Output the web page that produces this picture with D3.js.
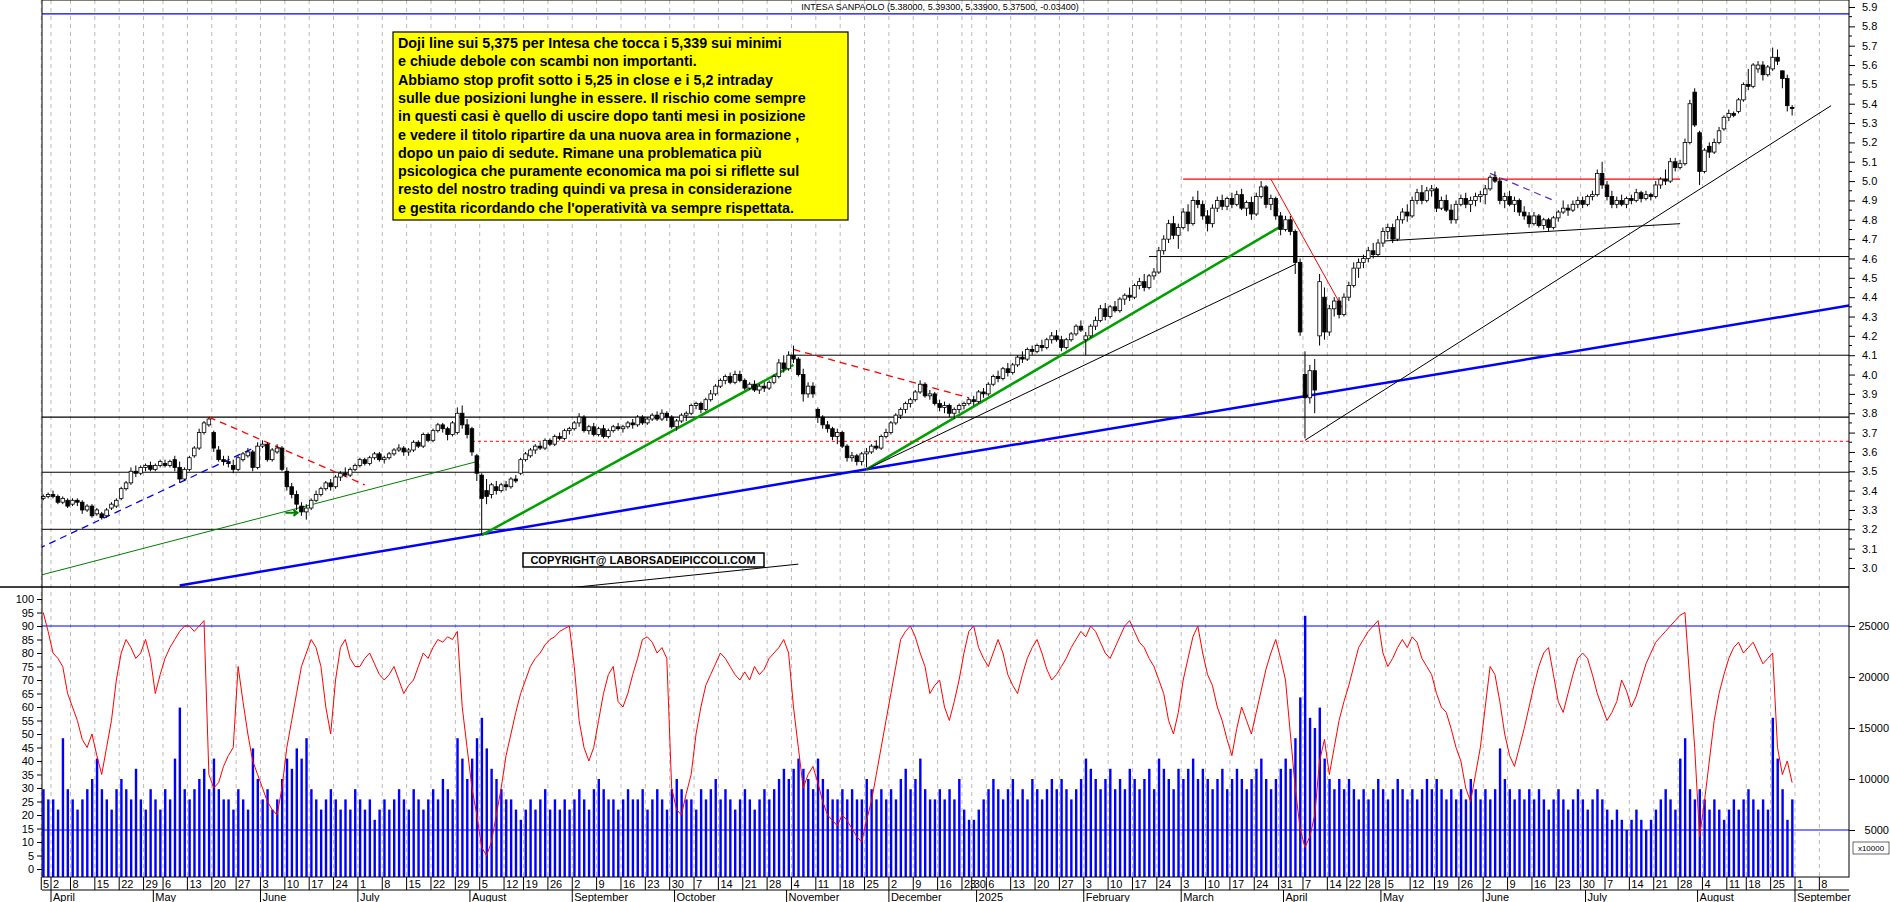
<!DOCTYPE html>
<html><head><meta charset="utf-8">
<script src="https://cdn.jsdelivr.net/npm/d3@7"></script>
<style>body{margin:0;background:#fff}svg{display:block;font-family:"Liberation Sans",Arial,sans-serif}</style>
</head><body><svg id="chart" width="1890" height="902"></svg>
<script>
// daily candles "open,high,low,close", one string per month
const candleMonths = [
 "3.36,3.38,3.35,3.37 3.37,3.39,3.36,3.38",
 "3.38,3.40,3.36,3.37 3.37,3.38,3.33,3.34 3.34,3.37,3.33,3.36 3.35,3.36,3.31,3.32 3.33,3.36,3.32,3.35 3.35,3.36,3.32,3.34 3.34,3.35,3.28,3.30 3.30,3.33,3.29,3.32 3.32,3.33,3.26,3.27 3.28,3.31,3.27,3.30 3.28,3.29,3.25,3.26 3.27,3.31,3.26,3.30 3.31,3.34,3.30,3.33 3.32,3.36,3.31,3.35 3.36,3.42,3.35,3.41 3.41,3.45,3.40,3.44 3.44,3.52,3.43,3.50 3.50,3.53,3.47,3.49 3.49,3.53,3.48,3.52 3.52,3.54,3.50,3.53 3.53,3.55,3.50,3.51",
 "3.51,3.54,3.50,3.53 3.53,3.56,3.52,3.55 3.54,3.56,3.52,3.53 3.53,3.56,3.52,3.55 3.56,3.58,3.50,3.52 3.52,3.55,3.44,3.46 3.46,3.52,3.45,3.51 3.51,3.58,3.50,3.57 3.58,3.63,3.57,3.62 3.62,3.72,3.61,3.70 3.70,3.76,3.69,3.75 3.74,3.78,3.73,3.77 3.70,3.71,3.60,3.62 3.61,3.63,3.55,3.56 3.56,3.58,3.53,3.55 3.55,3.58,3.52,3.54 3.53,3.56,3.49,3.51 3.51,3.58,3.50,3.57 3.56,3.60,3.55,3.59 3.58,3.62,3.57,3.60 3.60,3.61,3.50,3.52 3.52,3.65,3.51,3.63",
 "3.63,3.66,3.62,3.64 3.64,3.65,3.55,3.56 3.56,3.62,3.55,3.61 3.60,3.64,3.59,3.62 3.62,3.63,3.50,3.51 3.50,3.52,3.40,3.42 3.42,3.44,3.36,3.38 3.38,3.40,3.30,3.33 3.32,3.34,3.27,3.29 3.29,3.33,3.25,3.31 3.31,3.36,3.30,3.35 3.35,3.40,3.34,3.38 3.38,3.42,3.37,3.41 3.41,3.45,3.40,3.44 3.44,3.46,3.40,3.42 3.42,3.48,3.41,3.47 3.47,3.50,3.45,3.49 3.49,3.52,3.47,3.48 3.48,3.52,3.47,3.51 3.51,3.54,3.50,3.53",
 "3.53,3.57,3.52,3.56 3.56,3.57,3.53,3.54 3.54,3.58,3.53,3.57 3.57,3.60,3.56,3.59 3.59,3.60,3.55,3.56 3.56,3.58,3.54,3.57 3.57,3.60,3.56,3.59 3.59,3.62,3.58,3.61 3.61,3.64,3.60,3.62 3.62,3.63,3.58,3.60 3.60,3.62,3.58,3.61 3.61,3.66,3.60,3.65 3.65,3.66,3.62,3.63 3.63,3.70,3.62,3.69 3.69,3.70,3.65,3.66 3.66,3.72,3.65,3.71 3.71,3.75,3.70,3.74 3.74,3.75,3.70,3.72 3.72,3.73,3.66,3.69 3.69,3.76,3.68,3.75 3.70,3.83,3.69,3.80 3.80,3.84,3.72,3.74 3.74,3.77,3.67,3.69",
 "3.72,3.73,3.58,3.60 3.58,3.59,3.45,3.49 3.48,3.49,3.17,3.36 3.40,3.46,3.33,3.37 3.38,3.44,3.36,3.43 3.42,3.45,3.38,3.40 3.40,3.44,3.39,3.43 3.43,3.45,3.40,3.42 3.42,3.47,3.41,3.46 3.46,3.48,3.44,3.45 3.49,3.57,3.48,3.56 3.56,3.60,3.55,3.59 3.58,3.62,3.57,3.61 3.61,3.64,3.59,3.63 3.63,3.65,3.61,3.62 3.62,3.67,3.61,3.66 3.66,3.67,3.63,3.64 3.64,3.69,3.63,3.68 3.68,3.70,3.66,3.67 3.67,3.72,3.66,3.71 3.71,3.73,3.69,3.72",
 "3.72,3.76,3.71,3.75 3.75,3.80,3.73,3.78 3.78,3.79,3.70,3.71 3.71,3.74,3.69,3.73 3.73,3.75,3.68,3.69 3.69,3.73,3.68,3.72 3.72,3.74,3.67,3.68 3.68,3.72,3.67,3.71 3.71,3.74,3.70,3.73 3.73,3.75,3.71,3.72 3.72,3.74,3.70,3.73 3.73,3.76,3.72,3.75 3.75,3.77,3.72,3.74 3.74,3.79,3.73,3.78 3.78,3.79,3.74,3.75 3.75,3.78,3.74,3.77 3.77,3.80,3.76,3.79 3.79,3.81,3.76,3.77 3.77,3.82,3.76,3.80 3.80,3.81,3.76,3.78 3.78,3.79,3.72,3.73",
 "3.73,3.77,3.71,3.76 3.76,3.80,3.75,3.79 3.79,3.81,3.76,3.80 3.80,3.85,3.79,3.84 3.84,3.86,3.82,3.85 3.85,3.86,3.80,3.82 3.82,3.88,3.81,3.87 3.87,3.92,3.86,3.90 3.90,3.95,3.89,3.94 3.94,3.98,3.93,3.97 3.97,4.00,3.95,3.99 3.99,4.01,3.95,3.96 3.96,4.02,3.95,4.00 4.00,4.02,3.96,3.97 3.97,3.98,3.92,3.93 3.93,3.96,3.92,3.95 3.95,3.97,3.91,3.92 3.92,3.95,3.90,3.94 3.94,3.96,3.91,3.93 3.93,3.97,3.92,3.96 3.96,4.00,3.95,3.99 3.99,4.08,3.98,4.06 4.06,4.10,4.01,4.03",
 "4.03,4.12,4.02,4.10 4.10,4.15,4.06,4.08 4.08,4.09,3.99,4.00 4.00,4.03,3.86,3.90 3.90,3.96,3.88,3.94 3.94,3.96,3.88,3.90 3.82,3.83,3.75,3.78 3.78,3.79,3.72,3.74 3.74,3.76,3.70,3.72 3.72,3.73,3.66,3.68 3.68,3.72,3.64,3.70 3.70,3.71,3.62,3.63 3.63,3.64,3.55,3.57 3.57,3.60,3.55,3.58 3.58,3.59,3.53,3.55 3.55,3.60,3.53,3.59 3.59,3.62,3.52,3.60 3.60,3.64,3.59,3.63 3.63,3.66,3.61,3.62 3.62,3.69,3.61,3.68 3.68,3.72,3.67,3.70",
 "3.70,3.76,3.69,3.75 3.75,3.80,3.74,3.79 3.79,3.83,3.77,3.82 3.82,3.86,3.80,3.85 3.85,3.88,3.83,3.87 3.87,3.92,3.86,3.91 3.91,3.97,3.90,3.95 3.95,3.96,3.88,3.89 3.89,3.92,3.87,3.90 3.90,3.91,3.84,3.85 3.85,3.87,3.81,3.83 3.83,3.86,3.80,3.84 3.84,3.85,3.78,3.80 3.80,3.83,3.77,3.82 3.82,3.85,3.80,3.84 3.84,3.86,3.82,3.85 3.85,3.88,3.84,3.87 3.87,3.89,3.84,3.86",
 "3.86,3.92,3.85,3.91 3.91,3.93,3.88,3.90 3.90,3.96,3.89,3.95 3.95,4.00,3.94,3.99 3.99,4.02,3.96,3.98 3.98,4.04,3.97,4.03 4.03,4.06,3.99,4.01 4.01,4.06,4.00,4.05 4.05,4.10,4.04,4.09 4.09,4.12,4.06,4.08 4.08,4.14,4.07,4.13 4.13,4.15,4.10,4.12 4.12,4.16,4.11,4.15 4.15,4.18,4.12,4.14 4.14,4.19,4.13,4.18 4.18,4.22,4.16,4.20 4.20,4.23,4.17,4.18 4.18,4.20,4.12,4.14 4.14,4.19,4.13,4.18 4.18,4.22,4.17,4.21 4.21,4.26,4.20,4.25 4.25,4.28,4.22,4.23",
 "4.18,4.22,4.10,4.20 4.20,4.26,4.19,4.25 4.25,4.30,4.23,4.28 4.28,4.36,4.27,4.34 4.34,4.37,4.28,4.30 4.30,4.36,4.29,4.35 4.35,4.38,4.32,4.33 4.33,4.40,4.32,4.39 4.39,4.42,4.36,4.41 4.41,4.45,4.38,4.40 4.40,4.47,4.39,4.46 4.46,4.50,4.44,4.48 4.48,4.52,4.43,4.45 4.45,4.52,4.44,4.51 4.51,4.55,4.49,4.53 4.53,4.66,4.52,4.64 4.64,4.72,4.62,4.70 4.70,4.80,4.68,4.78 4.78,4.82,4.70,4.72 4.72,4.78,4.65,4.76",
 "4.76,4.86,4.75,4.84 4.84,4.88,4.74,4.78 4.78,4.92,4.77,4.90 4.90,4.95,4.86,4.88 4.88,4.90,4.80,4.82 4.82,4.85,4.74,4.78 4.78,4.88,4.76,4.86 4.86,4.92,4.84,4.90 4.90,4.93,4.85,4.87 4.87,4.92,4.85,4.91 4.91,4.94,4.86,4.88 4.88,4.95,4.87,4.93 4.93,4.96,4.85,4.86 4.86,4.90,4.82,4.89 4.89,4.92,4.80,4.83 4.83,4.94,4.82,4.92 4.92,5.00,4.91,4.97 4.97,4.98,4.86,4.88 4.88,4.93,4.85,4.91 4.91,4.92,4.80,4.82 4.82,4.84,4.72,4.75",
 "4.75,4.82,4.74,4.80 4.80,4.82,4.72,4.74 4.74,4.75,4.52,4.58 4.58,4.60,4.20,4.22 4.00,4.12,3.67,3.88 3.88,4.05,3.85,4.02 4.02,4.08,3.80,3.92 4.20,4.52,4.15,4.48 4.40,4.45,4.18,4.22 4.22,4.36,4.20,4.34 4.34,4.40,4.30,4.38 4.38,4.40,4.29,4.31 4.31,4.42,4.30,4.40 4.40,4.48,4.38,4.46 4.46,4.58,4.45,4.55 4.55,4.60,4.50,4.58 4.58,4.62,4.55,4.60 4.60,4.66,4.58,4.64 4.64,4.68,4.60,4.62 4.62,4.70,4.61,4.68",
 "4.68,4.76,4.66,4.74 4.74,4.78,4.70,4.76 4.76,4.78,4.68,4.70 4.70,4.82,4.69,4.80 4.80,4.86,4.78,4.84 4.84,4.88,4.79,4.82 4.82,4.92,4.81,4.90 4.90,4.96,4.88,4.94 4.94,4.98,4.88,4.90 4.90,4.97,4.89,4.95 4.95,4.98,4.92,4.96 4.96,4.97,4.84,4.86 4.86,4.92,4.85,4.90 4.90,4.93,4.84,4.85 4.85,4.88,4.78,4.80 4.80,4.90,4.78,4.88 4.88,4.93,4.87,4.91 4.91,4.94,4.86,4.88 4.88,4.92,4.84,4.90 4.90,4.94,4.87,4.92 4.92,4.95,4.89,4.93",
 "4.93,4.98,4.88,4.96 4.96,5.03,4.95,5.02 5.02,5.05,4.99,5.00 5.00,5.02,4.88,4.90 4.90,4.94,4.86,4.92 4.92,4.95,4.87,4.88 4.88,4.92,4.84,4.90 4.90,4.91,4.82,4.84 4.84,4.87,4.80,4.82 4.82,4.84,4.76,4.78 4.78,4.84,4.77,4.82 4.82,4.83,4.76,4.77 4.77,4.81,4.75,4.80 4.80,4.81,4.74,4.76 4.76,4.82,4.75,4.81 4.81,4.85,4.79,4.84 4.84,4.90,4.83,4.86 4.86,4.88,4.82,4.85 4.85,4.90,4.84,4.88 4.88,4.92,4.86,4.90 4.90,4.92,4.86,4.88",
 "4.88,4.93,4.87,4.92 4.92,4.95,4.90,4.93 4.93,5.06,4.92,5.04 5.04,5.10,4.96,4.98 4.98,5.00,4.90,4.92 4.92,4.95,4.86,4.88 4.88,4.92,4.86,4.90 4.90,4.93,4.87,4.88 4.88,4.92,4.86,4.91 4.91,4.93,4.88,4.90 4.90,4.96,4.89,4.94 4.94,4.95,4.89,4.91 4.91,4.95,4.90,4.93 4.93,4.94,4.90,4.92 4.92,5.00,4.91,4.98 4.98,5.02,4.96,5.01 5.01,5.06,4.98,5.00 5.00,5.12,4.99,5.10 5.10,5.12,5.05,5.07 5.07,5.11,5.06,5.09 5.09,5.22,5.08,5.20 5.20,5.42,5.19,5.40 5.46,5.48,5.28,5.29",
 "5.25,5.26,4.98,5.05 5.05,5.17,5.04,5.16 5.18,5.20,5.12,5.15 5.15,5.22,5.14,5.20 5.20,5.28,5.19,5.26 5.27,5.34,5.26,5.33 5.33,5.37,5.31,5.35 5.35,5.36,5.33,5.34 5.36,5.43,5.35,5.42 5.42,5.51,5.41,5.50 5.50,5.58,5.47,5.49 5.49,5.61,5.48,5.60 5.58,5.62,5.56,5.60 5.60,5.62,5.52,5.55 5.55,5.60,5.54,5.59 5.58,5.69,5.57,5.64 5.64,5.68,5.60,5.62 5.57,5.57,5.48,5.53 5.53,5.55,5.36,5.39 5.38,5.393,5.339,5.375"
];
// red oscillator line (0-100), one string per month
const oscMonths = [
 "95 88",
 "80 78 75 65 60 55 48 45 50 42 35 45 55 70 80 85 82 78 80 85 78",
 "65 72 78 82 85 88 90 90 88 90 92 35 30 32 38 42 45 75 62 50 40 35",
 "30 25 22 20 30 45 55 65 75 80 85 82 75 60 50 70 82 85 78 75",
 "75 78 80 76 72 70 72 75 70 65 68 70 75 80 78 82 85 84 86 85 88 60 45",
 "30 20 8 5 10 20 30 42 50 58 65 70 75 78 80 83 85 86 88 89 90",
 "75 55 45 40 45 55 65 72 75 62 60 65 72 78 85 86 84 80 82 78 30",
 "22 20 28 35 50 60 68 72 76 80 78 75 72 70 73 70 75 72 74 78 80 82 85",
 "80 60 45 30 35 38 32 25 20 18 16 20 18 15 12 10 18 25 35 45 55",
 "65 75 85 88 90 86 80 75 65 68 70 60 55 62 70 80 88 90",
 "82 78 75 80 85 80 72 68 65 72 78 82 85 80 74 70 72 75 78 82 85 88",
 "86 90 88 84 80 78 82 86 90 92 88 84 82 78 75 70 65 55 50 58",
 "70 78 86 90 80 72 68 60 55 48 42 52 60 55 50 58 66 74 80 85 78",
 "70 50 30 15 8 12 20 40 48 35 45 55 62 68 75 82 85 88 90 92",
 "80 75 78 82 85 82 86 84 78 75 72 65 60 58 52 45 40 30 25 35 45",
 "60 75 72 62 50 42 38 45 52 60 68 75 80 82 72 62 58 65 72 78 80",
 "78 72 65 60 55 58 62 70 66 60 64 70 76 80 84 86 88 90 92 94 95 70 45",
 "12 25 40 55 65 72 78 82 84 80 82 84 80 76 78 80 45 35 40 32"
];
// volume in thousands, one string per month
const volMonths = [
 "9 8",
 "8 7 14 9 8 7 8 9 10 12 9 8 7 9 10 9 8 11 8 7 9",
 "8 7 9 8 12 17 9 8 9 10 11 9 12 9 8 8 7 9 8 7 13 10",
 "8 9 7 8 10 12 11 13 12 14 9 8 7 8 9 8 7 8 7 9",
 "8 7 8 6 7 8 7 8 9 8 7 9 8 7 8 9 8 10 9 8 14 12 10",
 "12 14 16 13 11 10 9 8 8 7 6 7 8 7 8 9 7 8 7 8 7",
 "8 9 8 7 9 10 9 8 8 7 8 9 8 8 9 7 8 9 8 7 9",
 "10 9 8 8 7 9 8 9 10 8 9 8 7 8 9 8 7 8 9 8 9 10 11",
 "10 11 12 11 10 9 12 10 9 8 8 9 8 9 8 8 10 9 8 9 8",
 "9 8 10 11 9 10 12 9 8 8 9 8 9 8 10 7 6 6",
 "7 8 9 10 9 8 9 10 8 9 8 10 9 8 9 10 9 10 9 8 9 10",
 "12 11 10 9 10 11 9 10 9 11 10 9 10 11 9 12 11 10 9 11",
 "10 11 12 10 11 10 9 10 11 9 10 11 10 9 10 11 12 10 9 10 11",
 "12 11 14 18 26 16 15 17 12 10 9 10 9 10 9 8 9 8 9 10",
 "9 8 9 10 9 8 9 8 9 10 9 10 9 8 9 8 9 8 10 9 8",
 "9 8 9 13 10 9 8 9 8 9 8 9 8 7 8 9 8 7 8 9 8",
 "7 8 9 8 7 6 7 6 5 6 7 6 5 6 7 8 9 8 7 12 14 9 8",
 "9 8 7 8 7 6 7 8 7 8 9 8 7 8 7 16 12 9 6 8"
];
const holidays = ["2024-03-29","2024-04-01","2024-05-01","2024-08-15","2024-12-24","2024-12-25","2024-12-26","2024-12-31","2025-01-01","2025-04-18","2025-04-21","2025-05-01","2025-08-15"];
const priceTicks = d3.range(30, 60).map(v => v / 10);
const oscTicks = d3.range(0, 101, 5);
const volTicks = [5000, 10000, 15000, 20000, 25000];
const monthNames = ["2025","February","March","April","May","June","July","August","September","October","November","December"];

// annotations: [from date, price, to date, price, colour, width, dash]
const trendLines = [
 ["start",5.864,"end",5.864,"#0000ff",1.3,null],
 ["2025-03-03",5.01,"2025-07-28",5.01,"#ff0000",1.3,null],
 ["2025-02-20",4.61,"end",4.61,"#000",1,null],
 ["2024-11-01",4.10,"end",4.10,"#000",1,null],
 ["start",3.78,"end",3.78,"#000",1.3,null],
 ["2024-08-01",3.655,"end",3.655,"#ff0000",1,"3,3"],
 ["start",3.495,"end",3.495,"#000",1,null],
 ["start",3.20,"end",3.20,"#000",1,null],
 ["2024-05-09",2.91,"2024-11-25",3.51,"#0000ff",2.5,null],
 ["2024-11-25",3.51,"end",4.36,"#0000ff",2.5,null],
 ["start",2.96,"2024-08-02",3.55,"#008000",1,null],
 ["2024-08-05",3.17,"2024-11-04",4.05,"#00a000",2.5,null],
 ["2024-11-25",3.51,"2025-04-01",4.78,"#00a000",2.5,null],
 ["2024-11-25",3.51,"2025-04-03",4.57,"#000",1,null],
 ["2025-04-07",3.66,"2025-09-10",5.39,"#000",1,null],
 ["2025-05-02",4.69,"2025-07-28",4.78,"#000",1,null],
 ["2024-05-17",3.78,"2024-07-02",3.43,"#ff0000",1.3,"7,5"],
 ["start",3.10,"2024-05-31",3.63,"#0000ff",1.3,"7,5"],
 ["2024-11-04",4.13,"2024-12-27",3.88,"#ff0000",1.3,"7,5"],
 ["2025-03-27",5.01,"2025-04-17",4.33,"#ff0000",1,null],
 ["2025-06-03",5.04,"2025-06-20",4.90,"#6030c0",1.3,"7,5"],
 ["2024-09-02",2.90,"2024-11-05",3.02,"#000",1,null]
];
const noteLines = [
 "Doji line sui 5,375 per Intesa che tocca i 5,339 sui minimi",
 "e chiude debole con scambi non importanti.",
 "Abbiamo stop profit sotto i 5,25  in close e i 5,2 intraday",
 "sulle due posizioni lunghe in essere. Il rischio come sempre",
 "in questi casi è quello di uscire dopo tanti mesi in posizione",
 "e vedere il titolo ripartire da una nuova area in formazione ,",
 "dopo un paio di sedute. Rimane una problematica più",
 "psicologica che puramente economica ma poi si riflette sul",
 "resto del nostro trading quindi va presa in considerazione",
 "e gestita ricordando che l'operatività va sempre rispettata."
];

const candles = candleMonths.flatMap(m => m.split(" ").map(s => s.split(",").map(Number)));
const osc = oscMonths.flatMap(m => m.split(" ").map(Number));
const vol = volMonths.flatMap(m => m.split(" ").map(v => +v * 1000));

// trading calendar
const fmt = d3.timeFormat("%Y-%m-%d");
const days = d3.timeDay.range(new Date(2024, 2, 27), new Date(2025, 8, 13))
  .filter(d => d.getDay() % 6 !== 0 && !holidays.includes(fmt(d)));
const keys = days.map(fmt);

const svg = d3.select("#chart");
const L = 42, R = 1849, SEP = 587;
const x = d3.scaleLinear().domain([2, 360]).range([53, 1797]);
const y = d3.scaleLinear().domain([3.0, 5.9]).range([568, 7]);
const yo = d3.scaleLinear().domain([0, 100]).range([869, 599]);
const yv = d3.scaleLinear().domain([5000, 25000]).range([830, 626]);
const idx = k => k === "start" ? -1 : k === "end" ? keys.length + 1.5 : keys.indexOf(k);

// weekly ticks
const weekStarts = keys.map((k, i) => i).filter(i => i === 0 || days[i].getDay() <= days[i - 1].getDay());
const monthStarts = keys.map((k, i) => i).filter(i => i > 0 && days[i].getMonth() !== days[i - 1].getMonth());

svg.append("g").selectAll("line").data(weekStarts).join("line")
  .attr("x1", i => x(i) - 2).attr("x2", i => x(i) - 2).attr("y1", 0).attr("y2", 877)
  .attr("stroke", "#bbb").attr("stroke-dasharray", "4,4");

svg.append("defs").append("clipPath").attr("id", "pc").append("rect")
  .attr("x", L).attr("y", 0).attr("width", R - L).attr("height", SEP);

// volume
svg.append("g").selectAll("rect").data(vol).join("rect")
  .attr("x", (v, i) => x(i) - 1).attr("width", 2.4)
  .attr("y", v => yv(v)).attr("height", v => 877 - yv(v)).attr("fill", "#0000ff");
svg.append("g").selectAll("line").data([5000, 25000]).join("line")
  .attr("x1", L).attr("x2", R).attr("y1", yv).attr("y2", yv).attr("stroke", "#0000ff").attr("stroke-width", 1.2);
// oscillator
svg.append("path").datum(osc)
  .attr("d", d3.line().x((v, i) => x(i)).y(v => yo(v)))
  .attr("fill", "none").attr("stroke", "#ff0000").attr("stroke-width", 1);

// trend lines
svg.append("g").attr("clip-path", "url(#pc)").selectAll("line").data(trendLines).join("line")
  .attr("x1", t => x(idx(t[0]))).attr("y1", t => y(t[1]))
  .attr("x2", t => x(idx(t[2]))).attr("y2", t => y(t[3]))
  .attr("stroke", t => t[4]).attr("stroke-width", t => t[5])
  .attr("stroke-dasharray", t => t[6]);
// small green arrow
const ai = keys.indexOf("2024-06-13");
svg.append("path").attr("d", `M${x(ai) - 16},${y(3.285)}h12m-4,-3l4,3l-4,3`)
  .attr("stroke", "#008000").attr("stroke-width", 2).attr("fill", "none");

// candles
const cg = svg.append("g").selectAll("g").data(candles).join("g");
cg.append("line").attr("x1", (c, i) => x(i)).attr("x2", (c, i) => x(i))
  .attr("y1", c => y(c[1])).attr("y2", c => y(c[2])).attr("stroke", "#000");
cg.append("rect").attr("x", (c, i) => x(i) - 1.8).attr("width", 3.6)
  .attr("y", c => y(Math.max(c[0], c[3])))
  .attr("height", c => Math.max(1, Math.abs(y(c[0]) - y(c[3]))))
  .attr("fill", c => c[3] >= c[0] ? "#fff" : "#000").attr("stroke", "#000").attr("stroke-width", 0.8);

// panel borders
svg.append("line").attr("x1", 0).attr("x2", R).attr("y1", SEP).attr("y2", SEP).attr("stroke", "#000").attr("stroke-width", 1.3);
svg.append("rect").attr("x", L).attr("y", 0).attr("width", R - L).attr("height", 877).attr("fill", "none").attr("stroke", "#000");

// right price axis
svg.append("g").attr("transform", `translate(${R},0)`)
  .call(d3.axisRight(y).tickValues(priceTicks).tickFormat(d3.format(".1f")).tickSize(6))
  .call(g => g.select(".domain").remove())
  .call(g => g.selectAll("text").attr("font-size", 11).attr("x", 13).attr("font-family", "Liberation Sans"));
svg.append("g").selectAll("line").data(d3.range(30, 59).map(v => v / 10 + 0.05)).join("line")
  .attr("x1", R).attr("x2", R + 3).attr("y1", y).attr("y2", y).attr("stroke", "#000");
// right volume axis
svg.append("g").attr("transform", `translate(${R},0)`)
  .call(d3.axisRight(yv).tickValues(volTicks).tickSize(6).tickFormat(d => d))
  .call(g => g.select(".domain").remove())
  .call(g => g.selectAll("text").attr("font-size", 11).attr("text-anchor", "end").attr("x", 40).attr("font-family", "Liberation Sans"));
svg.append("rect").attr("x", R + 4).attr("y", 842).attr("width", 36).attr("height", 12).attr("fill", "#fff").attr("stroke", "#000").attr("stroke-width", 0.6);
svg.append("text").attr("x", R + 22).attr("y", 851).attr("text-anchor", "middle").attr("font-size", 8).text("x10000");
// left oscillator axis
svg.append("g").attr("transform", `translate(${L},0)`)
  .call(d3.axisLeft(yo).tickValues(oscTicks).tickSize(5))
  .call(g => g.select(".domain").remove())
  .call(g => g.selectAll("text").attr("font-size", 11).attr("font-family", "Liberation Sans"));

// date axis
const ax = svg.append("g");
ax.append("line").attr("x1", L).attr("x2", R).attr("y1", 890).attr("y2", 890).attr("stroke", "#000");
ax.selectAll(".wt").data(weekStarts).join("line").attr("class", "wt")
  .attr("x1", i => x(i) - 2).attr("x2", i => x(i) - 2).attr("y1", 877).attr("y2", 890).attr("stroke", "#000");
ax.selectAll(".wl").data(weekStarts.filter(i => x(i) > L + 6)).join("text").attr("class", "wl")
  .attr("x", i => x(i)).attr("y", 888).attr("font-size", 11).text(i => days[i].getDate());
ax.append("text").attr("x", L + 1).attr("y", 888).attr("font-size", 11).text("5");
ax.selectAll(".mt").data(monthStarts).join("line").attr("class", "mt")
  .attr("x1", i => x(i) - 2).attr("x2", i => x(i) - 2).attr("y1", 890).attr("y2", 902).attr("stroke", "#000");
ax.selectAll(".ml").data(monthStarts).join("text").attr("class", "ml")
  .attr("x", i => x(i)).attr("y", 901).attr("font-size", 11)
  .text(i => monthNames[days[i].getMonth()]);

// title
svg.append("text").attr("x", 940).attr("y", 10).attr("text-anchor", "middle").attr("font-size", 9)
  .text("INTESA SANPAOLO (5.38000, 5.39300, 5.33900, 5.37500, -0.03400)");

// note box
svg.append("rect").attr("x", 393).attr("y", 32).attr("width", 455).attr("height", 188)
  .attr("fill", "#ffff00").attr("stroke", "#000").attr("stroke-width", 1.2);
svg.append("g").selectAll("text").data(noteLines).join("text")
  .attr("x", 398).attr("y", (d, i) => 48 + i * 18.3).attr("font-size", 14.3).attr("font-weight", "bold").text(d => d);

// copyright
svg.append("rect").attr("x", 523).attr("y", 553).attr("width", 241).attr("height", 14).attr("fill", "#fff").attr("stroke", "#000").attr("stroke-width", 1.5);
svg.append("text").attr("x", 643).attr("y", 564).attr("text-anchor", "middle").attr("font-size", 11).attr("font-weight", "bold")
  .text("COPYRIGHT@ LABORSADEIPICCOLI.COM");
</script></body></html>
